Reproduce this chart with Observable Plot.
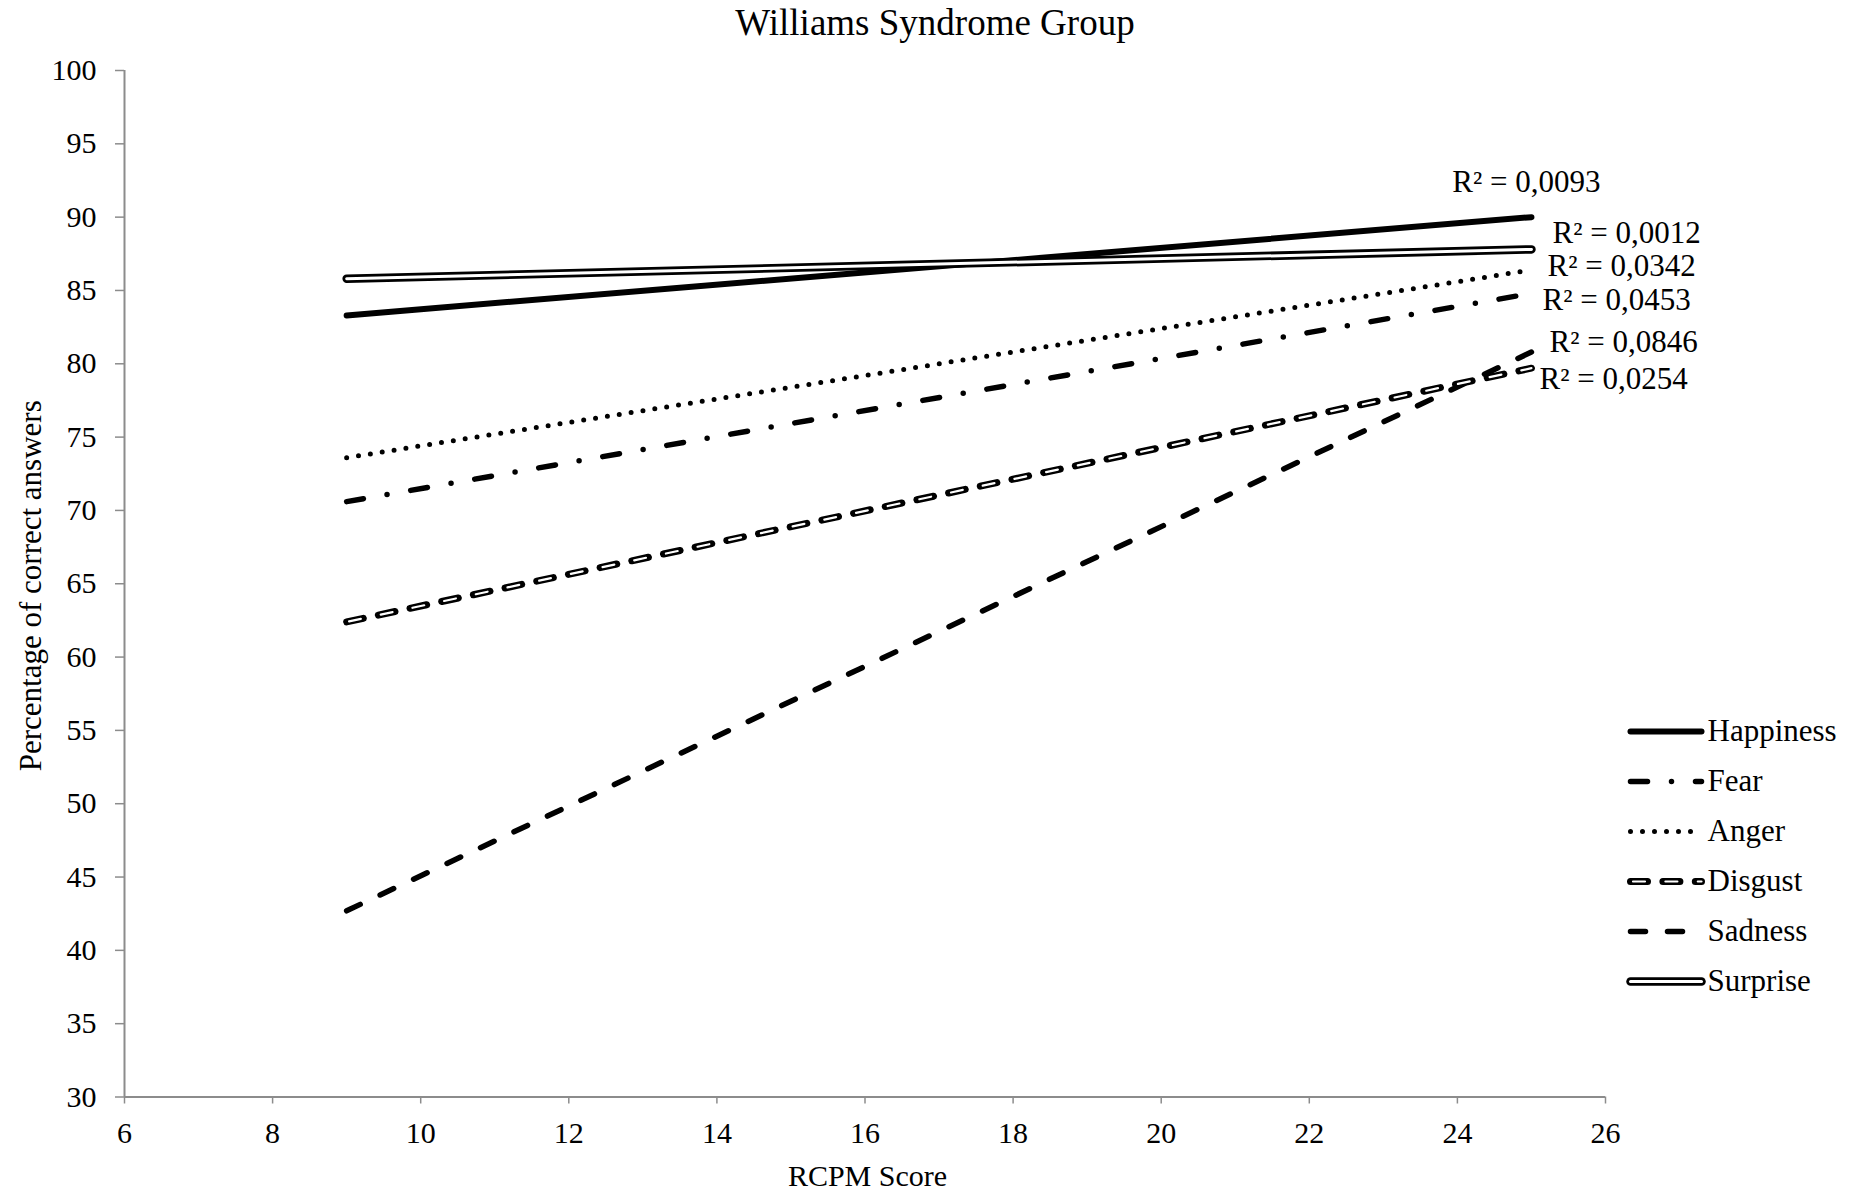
<!DOCTYPE html>
<html>
<head>
<meta charset="utf-8">
<script src="https://cdn.jsdelivr.net/npm/d3@7"></script>
<script src="https://cdn.jsdelivr.net/npm/@observablehq/plot@0.6"></script>
<style>
  html, body { margin: 0; padding: 0; background: white; }
  #wrap { position: relative; width: 1850px; height: 1194px; background: white; font-family: "Liberation Serif", "Times New Roman", serif; }
  #legend { position: absolute; left: 1615px; top: 703.6px; width: 235px; }
  #main { position: absolute; left: 0; top: 0; width: 1850px; }
  svg text { font-family: "Liberation Serif", "Times New Roman", serif; }
</style>
</head>
<body>
<div id="wrap"><div id="main"></div><div id="legend"></div></div>
<script>
// ---- data ----
const emotions = ["Happiness", "Fear", "Anger", "Disgust", "Sadness", "Surprise"];
const rcpmRange = [9, 25];
const startValues = [83.3, 70.6, 73.6, 62.4, 42.7, 85.8];
const endValues = [90.0, 84.8, 86.4, 79.7, 80.8, 87.8];
const r2Labels = ["R² = 0,0093", "R² = 0,0453", "R² = 0,0342", "R² = 0,0254", "R² = 0,0846", "R² = 0,0012"];
const xTicks = [6, 8, 10, 12, 14, 16, 18, 20, 22, 24, 26];
const yTicks = [30, 35, 40, 45, 50, 55, 60, 65, 70, 75, 80, 85, 90, 95, 100];
const titleText = "Williams Syndrome Group";
const xLabel = "RCPM Score";
const yLabel = "Percentage of correct answers";

// ---- tables built from data ----
const points = emotions.flatMap((e, i) => [
  {emotion: e, rcpm: rcpmRange[0], pct: startValues[i]},
  {emotion: e, rcpm: rcpmRange[1], pct: endValues[i]}
]);
const ends = emotions.map((e, i) => ({emotion: e, rcpm: rcpmRange[1], pct: endValues[i], label: r2Labels[i]}));

// ---- styles ----
const lineStyles = {
  Happiness: [{stroke: "black", strokeWidth: 6, strokeLinecap: "round"}],
  Fear: [{stroke: "black", strokeWidth: 5.5, strokeDasharray: "17 24 0 24", strokeLinecap: "round"}],
  Anger: [{stroke: "black", strokeWidth: 5, strokeDasharray: "0 12", strokeLinecap: "round"}],
  Disgust: [
    {stroke: "black", strokeWidth: 7, strokeDasharray: "17 15.4", strokeLinecap: "round"},
    {stroke: "white", strokeWidth: 2.2, strokeDasharray: "12 20.4", strokeDashoffset: -2.5, strokeLinecap: "round"}
  ],
  Sadness: [{stroke: "black", strokeWidth: 5.5, strokeDasharray: "15 22", strokeLinecap: "round"}],
  Surprise: [
    {stroke: "black", strokeWidth: 8.5, strokeLinecap: "round"},
    {stroke: "white", strokeWidth: 3, strokeLinecap: "round"}
  ]
};
const labelOffsets = {
  Happiness: {dx: -5, dy: -35, textAnchor: "middle"},
  Surprise: {dx: 21, dy: -16, textAnchor: "start"},
  Anger: {dx: 16, dy: -4, textAnchor: "start"},
  Fear: {dx: 11, dy: 7, textAnchor: "start"},
  Sadness: {dx: 18, dy: -10, textAnchor: "start"},
  Disgust: {dx: 8, dy: 11, textAnchor: "start"}
};
const drawOrder = ["Sadness", "Disgust", "Fear", "Anger", "Happiness", "Surprise"];
const FONT = "Liberation Serif";
const GRAY = "#8c8c8c";

function lineMarks(data, xKey, yKey) {
  return drawOrder.flatMap(e => lineStyles[e].map(s =>
    Plot.line(data.filter(d => d.emotion === e), {x: xKey, y: yKey, ...s})
  ));
}

const main = Plot.plot({
  width: 1850,
  height: 1194,
  marginLeft: 124,
  marginRight: 245,
  marginTop: 70,
  marginBottom: 97.5,
  style: {fontFamily: FONT, fontSize: "30px", background: "white", color: "black"},
  x: {domain: [6, 26]},
  y: {domain: [30, 100]},
  marks: [
    Plot.axisY({ticks: yTicks, tickSize: 9, tickPadding: 19, stroke: GRAY, strokeWidth: 1.5, fill: "black", fontSize: 30, fontFamily: FONT, label: null}),
    Plot.axisX({ticks: xTicks, tickSize: 7, tickPadding: 18, stroke: GRAY, strokeWidth: 1.5, fill: "black", fontSize: 30, fontFamily: FONT, label: null}),
    Plot.ruleX([6], {stroke: GRAY, strokeWidth: 2}),
    Plot.ruleY([30], {stroke: GRAY, strokeWidth: 2}),
    ...lineMarks(points, "rcpm", "pct"),
    ...emotions.map(e => Plot.text(ends.filter(d => d.emotion === e), {
      x: "rcpm", y: "pct", text: "label", fontSize: 31, fontFamily: FONT, fill: "black", ...labelOffsets[e]
    })),
    Plot.text([titleText], {text: d => d, frameAnchor: "top", textAnchor: "middle", lineAnchor: "middle", dx: 70, dy: -47.5, fontSize: 37, fontFamily: FONT, fill: "black"}),
    Plot.text([xLabel], {text: d => d, frameAnchor: "bottom", textAnchor: "middle", lineAnchor: "middle", dx: 2.5, dy: 79, fontSize: 30, fontFamily: FONT, fill: "black"}),
    Plot.text([yLabel], {text: d => d, frameAnchor: "left", textAnchor: "middle", lineAnchor: "middle", dx: -93.5, dy: 2, rotate: -90, fontSize: 31, fontFamily: FONT, fill: "black"})
  ]
});
document.getElementById("main").appendChild(main);

// ---- legend ----
const legendPoints = emotions.flatMap(e => [{emotion: e, t: 0}, {emotion: e, t: 1}]);
const legend = Plot.plot({
  width: 235,
  height: 305,
  margin: 0,
  style: {fontFamily: FONT, fontSize: "31px", background: "transparent", color: "black", overflow: "visible"},
  x: {domain: [0, 1], range: [15, 86], axis: null},
  y: {type: "point", domain: emotions, range: [25.4, 279.4], padding: 0, axis: null},
  marks: [
    ...lineMarks(legendPoints, "t", "emotion"),
    Plot.text(emotions, {x: () => 1, y: d => d, text: d => d, dx: 6, textAnchor: "start", fontSize: 31, fontFamily: FONT, fill: "black"})
  ]
});
document.getElementById("legend").appendChild(legend);
</script>
</body>
</html>
